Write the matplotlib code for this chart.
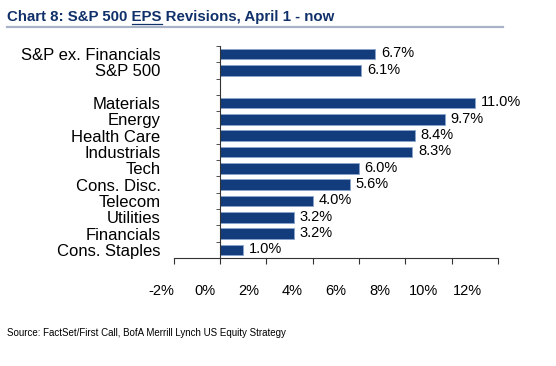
import numpy as np
import matplotlib
matplotlib.use('Agg')
import matplotlib.pyplot as plt
from matplotlib.lines import Line2D

plt.rcParams['font.family'] = ['Liberation Sans', 'DejaVu Sans']

# index rows first, then sectors (a blank row sits between the two groups)
index_names = ['S&P ex. Financials', 'S&P 500']
index_values = [6.7, 6.1]
sector_names = ['Materials', 'Energy', 'Health Care', 'Industrials', 'Tech',
                'Cons. Disc.', 'Telecom', 'Utilities', 'Financials', 'Cons. Staples']
sector_values = [11.0, 9.7, 8.4, 8.3, 6.0, 5.6, 4.0, 3.2, 3.2, 1.0]
x_ticks = [-2, 0, 2, 4, 6, 8, 10, 12]

NAVY = '#123c7c'
TITLE_BLUE = '#10306a'
W, H = 556, 366

names = index_names + [''] + sector_names
values = index_values + [None] + sector_values
rows = np.arange(len(names))

fig = plt.figure(figsize=(W / 100, H / 100), dpi=100)
# x from -2.6 so the shifted "-2%" label stays inside the view
ax = fig.add_axes([160 / W, 1 - 258 / H, 338 / W, 212 / H])

for r, v in zip(rows, values):
    if v is None:
        continue
    ax.barh(r, v, height=0.65, color=NAVY, edgecolor='#8aa3cc', linewidth=0.6)
    ax.annotate(f'{v:.1f}%', (v, r), xytext=(4, 0.5), textcoords='offset points',
                va='center', ha='left', fontsize=10.5)

ax.set_xlim(-2.6, 12)
ax.set_ylim(len(names) - 0.5, -0.5)

for s in ['top', 'right']:
    ax.spines[s].set_visible(False)
ax.spines['bottom'].set_bounds(-2, 12)
ax.spines['left'].set_position(('data', 0))
for s in ['left', 'bottom']:
    ax.spines[s].set_linewidth(0.8)
    ax.spines[s].set_color('#333333')

# category labels on major ticks, tick marks between rows
ax.set_yticks(rows, names, fontsize=12)
ax.tick_params(axis='y', which='major', length=0, pad=43)
ax.set_yticks(np.arange(-0.5, len(names)), minor=True)
ax.tick_params(axis='y', which='minor', length=3, direction='out', color='#333333')

ax.set_xticks(x_ticks, [''] * len(x_ticks))
ax.tick_params(axis='x', length=4, direction='out', color='#333333')

# in the original the % labels sit a bit left of their ticks, growing with x
shift = lambda x: (x + 0.647) / 0.943
unshift = lambda v: v * 0.943 - 0.647
sec = ax.secondary_xaxis('bottom', functions=(shift, unshift))
sec.set_xticks(x_ticks, [f'{t}%' for t in x_ticks])
sec.tick_params(length=0, pad=19, labelsize=10.5)
sec.spines['bottom'].set_visible(False)

# title; EPS gets underlined, measured from throwaway texts
tkw = dict(fontsize=10.8, fontweight='bold', color=TITLE_BLUE, va='baseline')
tpos = (7 / W, 1 - 21.5 / H)
fig.text(*tpos, 'Chart 8: S&P 500 EPS Revisions, April 1 - now', **tkw)
m1 = fig.text(*tpos, 'Chart 8: S&P 500 EPS', alpha=0, **tkw)
m2 = fig.text(*tpos, 'EPS', alpha=0, **tkw)
fig.canvas.draw()
x_end = m1.get_window_extent().x1
x_start = x_end - m2.get_window_extent().width
m1.remove()
m2.remove()
fig.add_artist(Line2D([x_start / W, x_end / W], [1 - 24 / H, 1 - 24 / H],
                      transform=fig.transFigure, color=TITLE_BLUE, lw=0.9))
fig.add_artist(Line2D([7 / W, 503 / W], [1 - 26.5 / H, 1 - 26.5 / H],
                      transform=fig.transFigure, color='#a8b3c7', lw=1.6))

fig.text(7 / W, 1 - 333 / H, 'Source: FactSet/First Call, BofA Merrill Lynch US Equity Strategy',
         fontsize=7, va='center')

fig.savefig('out.png', dpi=100)
